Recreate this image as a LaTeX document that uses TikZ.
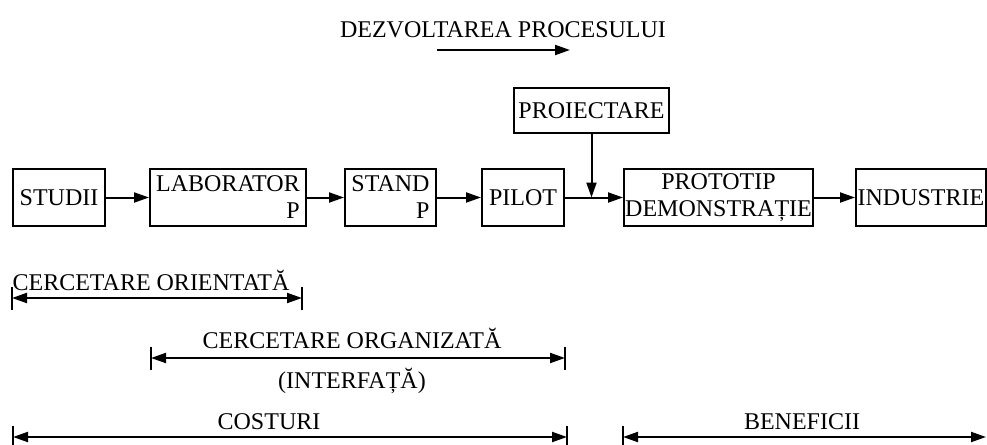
\documentclass[tikz,border=0pt]{standalone}
\usepackage{fontspec}
\setmainfont{Liberation Serif}
\usetikzlibrary{arrows.meta,calc}

\tikzset{
  box/.style={draw, line width=1pt, inner sep=0.5pt, minimum height=28.5pt,
    font=\fontsize{12}{13.5}\selectfont},
  flow/.style={line width=1pt, -{Triangle[length=7.5pt,width=5pt]}},
  span/.style={line width=1pt,
    {Triangle[length=7.5pt,width=5pt]}-{Triangle[length=7.5pt,width=5pt]}},
  lbl/.style={font=\fontsize{12}{13.5}\selectfont, inner sep=0pt, anchor=base},
}

\begin{document}
\begin{tikzpicture}[x=0.5pt,y=-0.5pt]
\useasboundingbox (0,0) rectangle (987,445);

% direction of development
\node[lbl] (dezv) at (503,37) {DEZVOLTAREA PROCESULUI};
\coordinate (dezvA) at (437,50);
\coordinate (dezvB) at (570,50);
\draw[flow] (dezvA) -- (dezvB);

% chain of stages
\node[box, minimum width=46pt] (studii) at (59,197.5) {STUDII};
\node[box, minimum width=78pt, align=right] (lab) at (228,197.5) {LABORATOR\\P};
\node[box, minimum width=45.5pt, align=right] (stand) at (390.5,197.5) {STAND\\P};
\node[box, minimum width=41pt] (pilot) at (523,197.5) {PILOT};
\node[box, minimum width=94.5pt, align=center] (proto) at (718.5,197.5) {PROTOTIP\\DEMONSTRAȚIE};
\node[box, minimum width=65pt] (ind) at (921,197.5) {INDUSTRIE};
\node[box, minimum width=77.5pt, minimum height=22.5pt] (proiect) at (591.5,110.5) {PROIECTARE};

\draw[flow] (studii) -- (lab);
\draw[flow] (lab) -- (stand);
\draw[flow] (stand) -- (pilot);
\draw[flow] (pilot) -- (proto);
\draw[flow] (proto) -- (ind);
\coordinate (join) at (proiect.south |- pilot.east);
\draw[flow] (proiect) -- (join);

% spans below
\node[lbl] (ori) at (151,290) {CERCETARE ORIENTATĂ};
\node[lbl] (org) at (352,348) {CERCETARE ORGANIZATĂ};
\node[lbl] (intf) at (352,388) {(INTERFAȚĂ)};
\node[lbl] (cost) at (269,429) {COSTURI};
\node[lbl] (ben) at (802,429) {BENEFICII};

\coordinate (oriL) at (12,298);   \coordinate (oriR) at (302,298);
\coordinate (orgL) at (151,358);  \coordinate (orgR) at (565,358);
\coordinate (costL) at (13,437);  \coordinate (costR) at (567,437);
\coordinate (benL) at (623,437);  \coordinate (benR) at (986,437);

\draw[span] (oriL) -- (oriR);
\draw[span] (orgL) -- (orgR);
\draw[span] (costL) -- (costR);
\draw[span] (benL) -- (benR);

\foreach \tx/\ty in {12/298, 302/298, 151/358, 565/358, 13/437, 567/437, 623/437}
  \draw[line width=1pt] (\tx,\ty-11.5) -- (\tx,\ty+11.5);

\end{tikzpicture}
\end{document}
